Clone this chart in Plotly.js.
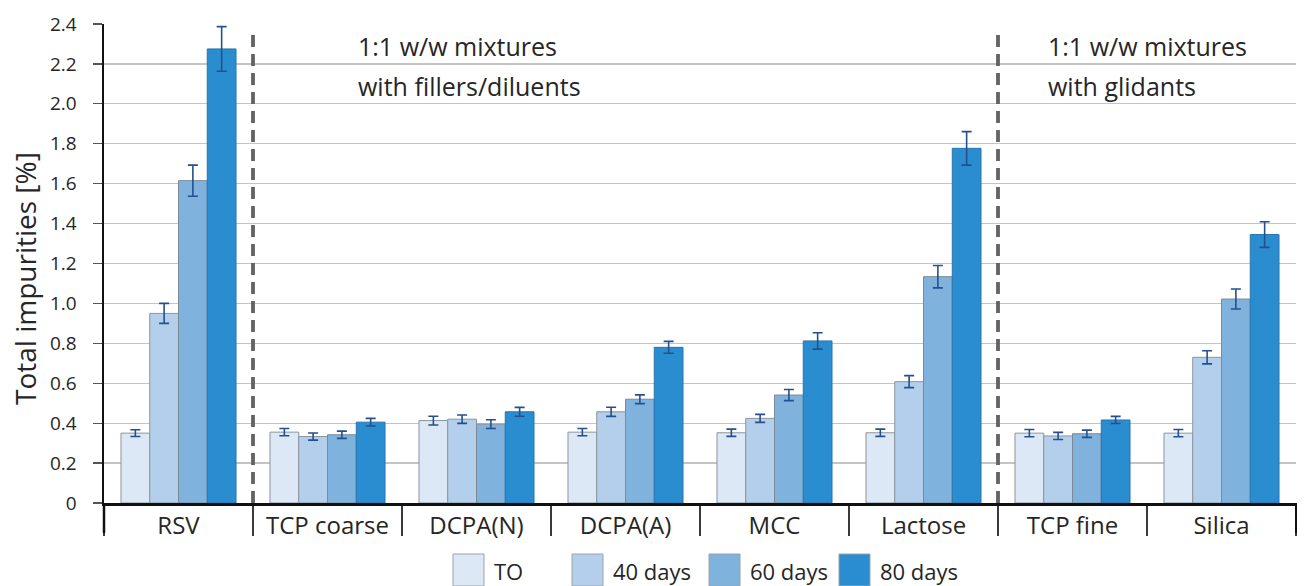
<!DOCTYPE html>
<html>
<head>
<meta charset="utf-8">
<script src="https://cdn.plot.ly/plotly-3.0.1.min.js"></script>
<style>html,body{margin:0;padding:0;background:#fff;}#chart{width:1307px;height:586px;}</style>
</head>
<body>
<div id="chart"></div>
<script>
// ---- data ----
const categories = ["RSV", "TCP coarse", "DCPA(N)", "DCPA(A)", "MCC", "Lactose", "TCP fine", "Silica"];
const seriesNames = ["TO", "40 days", "60 days", "80 days"];
const valuesT0  = [0.350, 0.355, 0.413, 0.355, 0.352, 0.352, 0.350, 0.350];
const values40  = [0.950, 0.333, 0.420, 0.457, 0.424, 0.608, 0.336, 0.730];
const values60  = [1.615, 0.342, 0.395, 0.520, 0.541, 1.134, 0.347, 1.022];
const values80  = [2.275, 0.405, 0.457, 0.780, 0.812, 1.777, 0.416, 1.345];
const errorsT0  = [0.017, 0.018, 0.022, 0.018, 0.018, 0.018, 0.018, 0.018];
const errors40  = [0.050, 0.018, 0.021, 0.023, 0.020, 0.030, 0.018, 0.033];
const errors60  = [0.078, 0.018, 0.022, 0.022, 0.028, 0.056, 0.018, 0.050];
const errors80  = [0.112, 0.019, 0.022, 0.030, 0.041, 0.084, 0.018, 0.064];
const yTicks = [0, 0.2, 0.4, 0.6, 0.8, 1.0, 1.2, 1.4, 1.6, 1.8, 2.0, 2.2, 2.4];
const yTickText = ["0", "0.2", "0.4", "0.6", "0.8", "1.0", "1.2", "1.4", "1.6", "1.8", "2.0", "2.2", "2.4"];
const yTitle = "Total impurities [%]";
const groupNotes = [
  {after: "RSV", lines: ["1:1 w/w mixtures", "with fillers/diluents"]},
  {after: "Lactose", lines: ["1:1 w/w mixtures", "with glidants"]}
];

// ---- styles ----
const fillColors = ["#dce8f5", "#b4cfeb", "#80b2de", "#2a8dcf"];
const edgeColors = ["#8c959e", "#8c959e", "#7d8a96", "#2775ad"];
const FONT = "Open Sans, Noto Sans, sans-serif";
const TXT = "#262626";

const allValues = [valuesT0, values40, values60, values80];
const allErrors = [errorsT0, errors40, errors60, errors80];

const traces = seriesNames.map((name, i) => ({
  type: "bar",
  name: name,
  x: categories,
  y: allValues[i],
  marker: {color: fillColors[i], line: {color: edgeColors[i], width: 1}},
  error_y: {type: "data", array: allErrors[i], visible: true, color: "#25508f", thickness: 1.6, width: 5},
  showlegend: false,
  hoverinfo: "skip"
}));

// plot geometry (px) used for layout decorations only
const W = 1307, H = 586;
const M = {l: 104, r: 11, t: 24, b: 83};
const PW = W - M.l - M.r, PH = H - M.t - M.b;
const px2x = p => (p - M.l) / PW;
const px2y = p => (H - M.b - p) / PH;

const shapes = [];
const annotations = [];

// dashed group separators at category boundaries
["TCP coarse", "TCP fine"].forEach(c => {
  const xb = categories.indexOf(c) - 0.5;
  shapes.push({type: "line", xref: "x", yref: "y", x0: xb, x1: xb, y0: 0, y1: 2.375,
    line: {color: "#636363", width: 3.8, dash: "12px,7px"}, layer: "above"});
});

// y axis line continuing below the x axis
shapes.push({type: "line", xref: "paper", yref: "paper", x0: 0, x1: 0, y0: 0, y1: -30 / PH,
  line: {color: "#111", width: 2.5}});
shapes.push({type: "line", xref: "paper", yref: "paper", x0: 1, x1: 1, y0: 0, y1: -30 / PH,
  line: {color: "#111", width: 2}});

// y axis title
annotations.push({xref: "paper", yref: "paper", x: px2x(25), y: px2y(279),
  xanchor: "center", yanchor: "middle", textangle: -90, showarrow: false, text: yTitle,
  font: {family: FONT, size: 28, color: TXT}});

// group notes
const notePx = [356, 1046];
groupNotes.forEach((g, k) => {
  g.lines.forEach((ln, j) => {
    annotations.push({xref: "paper", yref: "paper", x: px2x(notePx[k]), y: px2y(46 + 40 * j),
      xanchor: "left", yanchor: "middle", showarrow: false, text: ln,
      font: {family: FONT, size: 25, color: TXT}});
  });
});

// custom legend (boxes + labels)
const legBoxLeft = [453, 572, 709, 839];
seriesNames.forEach((name, i) => {
  shapes.push({type: "rect", xref: "paper", yref: "paper",
    x0: px2x(legBoxLeft[i]), x1: px2x(legBoxLeft[i] + 31), y0: px2y(554), y1: px2y(586),
    fillcolor: fillColors[i], line: {color: "#9aa3ab", width: 1}});
  annotations.push({xref: "paper", yref: "paper", x: px2x(legBoxLeft[i] + 39), y: px2y(571),
    xanchor: "left", yanchor: "middle", showarrow: false, text: name,
    font: {family: FONT, size: 22, color: TXT}});
});

const layout = {
  width: W, height: H,
  margin: M,
  paper_bgcolor: "#ffffff",
  plot_bgcolor: "#ffffff",
  font: {family: FONT, color: TXT},
  barmode: "group",
  bargap: 0.228,
  bargroupgap: 0,
  showlegend: false,
  xaxis: {
    type: "category",
    categoryorder: "array",
    categoryarray: categories,
    showline: true, linecolor: "#111", linewidth: 2.5,
    ticks: "outside", tickson: "boundaries", ticklen: 30, tickwidth: 1.5, tickcolor: "#3a3a3a",
    ticklabelstandoff: 0,
    tickfont: {family: FONT, size: 24, color: TXT},
    showgrid: false, zeroline: false, fixedrange: true
  },
  yaxis: {
    range: [0, 2.4],
    tickvals: yTicks, ticktext: yTickText,
    showline: true, linecolor: "#111", linewidth: 2.5,
    ticks: "outside", ticklen: 9, tickwidth: 1.3, tickcolor: "#555",
    ticklabelstandoff: 12,
    tickfont: {family: FONT, size: 19, color: TXT},
    showgrid: true, gridcolor: "#c4c4c4", gridwidth: 1.2,
    zeroline: false,
    automargin: false, fixedrange: true
  },
  shapes: shapes,
  annotations: annotations
};

Plotly.newPlot("chart", traces, layout, {displayModeBar: false, staticPlot: true});
</script>
</body>
</html>
